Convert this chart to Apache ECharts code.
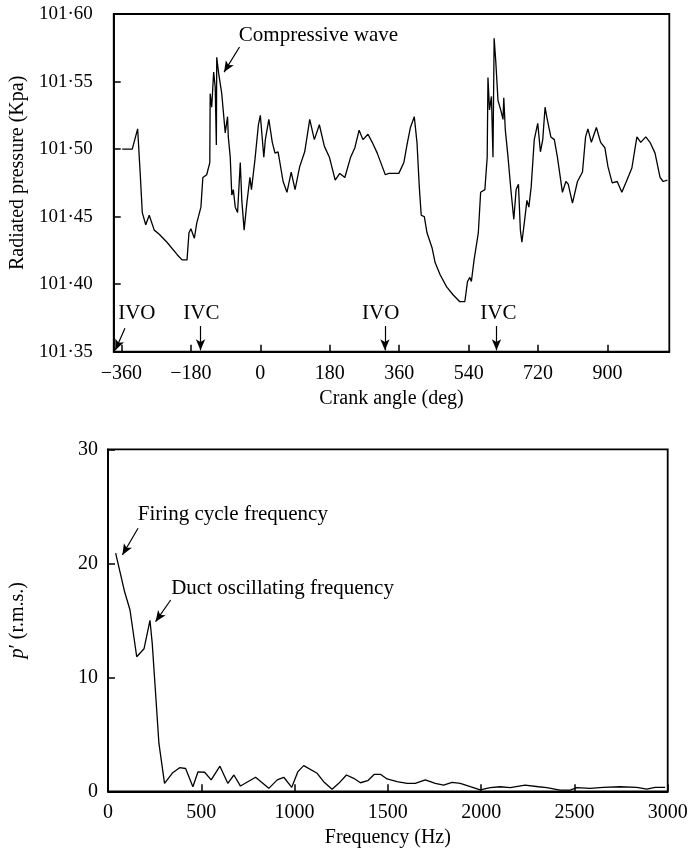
<!DOCTYPE html>
<html>
<head>
<meta charset="utf-8">
<script src="https://cdn.jsdelivr.net/npm/echarts@6/dist/echarts.min.js"></script>
<style>html,body{margin:0;padding:0;background:#fff}#c{width:693px;height:850px}</style>
</head>
<body>
<div id="c"></div>
<script>
// ---- Top panel: radiated pressure vs crank angle ----
const crankAngle = [-358,-332,-318,-311,-306,-297,-288,-275,-262,-242,-216,-203,-190,-185,-180,-171,-165,-154,-149,-139,-131,-130,-126,-121,-117,-114,-113,-108,-100,-91,-85,-83,-78,-74,-70,-65,-59,-52,-48,-42,-35,-27,-23,-14,-5,0,9,13,22,31,38,46,59,69,80,90,102,115,128,140,153,166,179,194,206,219,234,245,256,266,279,290,303,316,324,333,359,372,380,389,399,406,412,417,425,432,445,453,466,483,500,517,530,537,543,547,554,565,571,582,588,590,594,599,603,606,610,616,623,629,631,635,642,650,657,663,669,674,678,684,691,696,702,710,719,726,732,738,743,753,762,770,783,792,798,809,822,835,843,849,858,871,882,893,901,912,925,937,950,963,976,986,999,1010,1023,1036,1044,1055];
const radiatedPressure = [101.500,101.500,101.515,101.480,101.453,101.444,101.451,101.440,101.437,101.431,101.422,101.418,101.418,101.438,101.441,101.434,101.445,101.457,101.479,101.481,101.490,101.541,101.531,101.557,101.546,101.503,101.568,101.556,101.541,101.512,101.524,101.509,101.494,101.466,101.470,101.457,101.453,101.490,101.462,101.440,101.460,101.479,101.470,101.492,101.518,101.525,101.494,101.507,101.522,101.505,101.497,101.498,101.476,101.468,101.483,101.470,101.487,101.498,101.522,101.507,101.518,101.502,101.494,101.477,101.482,101.479,101.494,101.501,101.514,101.507,101.511,101.505,101.497,101.487,101.481,101.482,101.482,101.490,101.503,101.516,101.524,101.505,101.472,101.451,101.450,101.438,101.427,101.416,101.407,101.398,101.392,101.387,101.387,101.402,101.405,101.402,101.418,101.438,101.468,101.470,101.494,101.553,101.529,101.539,101.494,101.582,101.566,101.536,101.529,101.522,101.538,101.514,101.494,101.468,101.448,101.470,101.474,101.440,101.431,101.445,101.462,101.457,101.472,101.507,101.519,101.498,101.507,101.531,101.523,101.509,101.507,101.494,101.468,101.476,101.474,101.460,101.476,101.483,101.509,101.515,101.505,101.516,101.505,101.501,101.487,101.475,101.476,101.468,101.477,101.486,101.509,101.505,101.509,101.505,101.497,101.479,101.476,101.477];
const crankTicks = [-360,-180,0,180,360,540,720,900];
const pressureTicks = [101.35,101.40,101.45,101.50,101.55,101.60];

// ---- Bottom panel: spectrum ----
const frequency = [41,89,118,154,193,225,237,255,273,303,345,384,416,455,482,518,553,600,642,675,710,791,862,907,942,985,1017,1049,1121,1156,1201,1237,1278,1317,1353,1392,1428,1460,1496,1549,1603,1647,1701,1754,1799,1844,1888,1942,1995,2049,2102,2156,2236,2307,2352,2423,2477,2513,2584,2655,2745,2834,2888,2932,2986];
const pRms = [20.9,17.5,15.9,11.8,12.5,15.0,13.0,8.6,4.2,0.7,1.6,2.07,2.0,0.4,1.7,1.67,1.0,2.2,0.7,1.43,0.46,1.23,0.26,1.0,1.23,0.35,1.7,2.25,1.58,0.84,0.18,0.7,1.43,1.14,0.75,0.93,1.49,1.49,1.08,0.84,0.7,0.7,1.0,0.7,0.55,0.79,0.7,0.4,0.12,0.32,0.4,0.32,0.55,0.4,0.32,0.1,0.1,0.32,0.26,0.35,0.4,0.35,0.2,0.35,0.35];

// ---- Annotations (data coordinates) ----
const topTexts = [
  {text:'Compressive wave', at:[-57,101.584], align:'left'},
  {text:'IVO', at:[-320,101.3785], align:'center'},
  {text:'IVC', at:[-153,101.3785], align:'center'},
  {text:'IVO', at:[312,101.3785], align:'center'},
  {text:'IVC', at:[617,101.3785], align:'center'}
];
const topArrows = [
  [[-54,101.5756],[-94,101.557]],
  [[-351,101.3674],[-376,101.351]],
  [[-155,101.369],[-155,101.351]],
  [[323,101.369],[323,101.351]],
  [[612,101.369],[612,101.351]]
];
const botTexts = [
  {text:'Firing cycle frequency', at:[157,24.3], align:'left'},
  {text:'Duct oscillating frequency', at:[336,17.75], align:'left'}
];
const botArrows = [
  [[161,23.07],[77,20.73]],
  [[336,16.78],[255,14.88]]
];

const FONT = 'Liberation Serif';
const chart = echarts.init(document.getElementById('c'), null, {renderer:'canvas'});

function markPts(list){
  return {
    symbol:'circle', symbolSize:1, itemStyle:{color:'rgba(0,0,0,0)'}, silent:true,
    data: list.map(t => ({
      coord: t.at,
      label:{show:true, formatter:t.text, position: t.align==='left' ? 'right' : 'inside', distance:0,
        color:'#000', fontFamily:FONT, fontSize:21}
    }))
  };
}
function markArr(list){
  return {
    silent:true, symbol:['none','arrow'], symbolSize:[7,11],
    lineStyle:{color:'#000', width:1.2, type:'solid'},
    label:{show:false}, animation:false,
    data: list.map(a => [{coord:a[0]},{coord:a[1]}])
  };
}

const axisLineStyle = {show:true, onZero:false, lineStyle:{color:'#000', width:1.8}};
const tickStyle = {show:true, inside:true, length:7, lineStyle:{color:'#000', width:1.5}};
const labelStyle = {color:'#000', fontFamily:FONT, fontSize:20};

const option = {
  animation:false,
  backgroundColor:'#fff',
  grid:[
    {left:109.3, top:14, width:560, height:337.7, show:true, borderColor:'#000', borderWidth:1.8, containLabel:false},
    {left:107.3, top:449.3, width:560.4, height:342, show:true, borderColor:'#000', borderWidth:1.8, containLabel:false}
  ],
  xAxis:[
    {gridIndex:0, type:'value', min:-380, max:1060,
     axisLine:axisLineStyle,
     axisTick:Object.assign({}, tickStyle, {customValues:crankTicks}),
     axisLabel:Object.assign({}, labelStyle, {customValues:crankTicks, margin:12,
        formatter:v => String(v).replace('-', '\u2212')}),
     splitLine:{show:false},
     name:'Crank angle (deg)', nameLocation:'middle', nameGap:37,
     nameTextStyle:{color:'#000', fontFamily:FONT, fontSize:20}},
    {gridIndex:1, type:'value', min:0, max:3000, interval:500,
     axisLine:axisLineStyle, axisTick:tickStyle,
     axisLabel:Object.assign({}, labelStyle, {margin:11, formatter:v => String(v)}),
     splitLine:{show:false},
     name:'Frequency (Hz)', nameLocation:'middle', nameGap:36,
     nameTextStyle:{color:'#000', fontFamily:FONT, fontSize:20}}
  ],
  yAxis:[
    {gridIndex:0, type:'value', min:101.35, max:101.60,
     axisLine:axisLineStyle,
     axisTick:Object.assign({}, tickStyle, {customValues:pressureTicks}),
     axisLabel:Object.assign({}, labelStyle, {customValues:pressureTicks, margin:21, fontSize:19,
        formatter:v => v.toFixed(2).replace('.', '\u00B7')}),
     splitLine:{show:false},
     name:'Radiated pressure (Kpa)', nameLocation:'middle', nameGap:82,
     nameTextStyle:{color:'#000', fontFamily:FONT, fontSize:20, padding:[0,0,0,20]}},
    {gridIndex:1, type:'value', min:0, max:30, interval:10,
     axisLine:axisLineStyle, axisTick:tickStyle,
     axisLabel:Object.assign({}, labelStyle, {margin:10}),
     splitLine:{show:false},
     name:'{i|p}\u2032 (r.m.s.)', nameLocation:'middle', nameGap:80,
     nameTextStyle:{color:'#000', fontFamily:FONT, fontSize:20,
       rich:{i:{fontStyle:'italic', fontFamily:FONT, fontSize:20, color:'#000'}}}}
  ],
  series:[
    {type:'line', xAxisIndex:0, yAxisIndex:0, showSymbol:false, symbol:'none',
     lineStyle:{color:'#000', width:1.3}, data: crankAngle.map((x,i)=>[x, radiatedPressure[i]]),
     markPoint: markPts(topTexts), markLine: markArr(topArrows)},
    {type:'line', xAxisIndex:1, yAxisIndex:1, showSymbol:false, symbol:'none',
     lineStyle:{color:'#000', width:1.3}, data: frequency.map((x,i)=>[x, pRms[i]]),
     markPoint: markPts(botTexts), markLine: markArr(botArrows)}
  ]
};
chart.setOption(option);
</script>
</body>
</html>
